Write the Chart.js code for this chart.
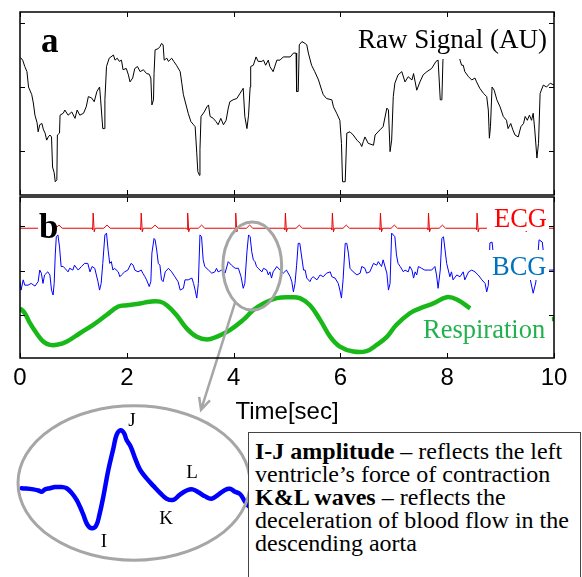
<!DOCTYPE html>
<html>
<head>
<meta charset="utf-8">
<script src="https://cdn.jsdelivr.net/npm/chart.js@4.4.0/dist/chart.umd.min.js"></script>
<style>
  body { margin: 0; background: #fff; width: 582px; height: 577px; overflow: hidden; }
  canvas { position: absolute; left: 0; }
  #rawChart { top: 0; }
  #signalsChart { top: 190px; }
  #zoomChart { top: 400px; }
  #note {
    position: absolute; left: 248px; top: 432px; width: 333px; height: 160px;
    box-sizing: border-box; border: 1px solid #444; background: #fff; color: #000;
    font-family: 'Liberation Serif', 'Times New Roman', serif; font-size: 24px; line-height: 23px;
    padding: 7px 0 0 6px; white-space: nowrap;
  }
</style>
</head>
<body>
<canvas id="rawChart" width="582" height="200"></canvas>
<canvas id="signalsChart" width="582" height="250"></canvas>
<canvas id="zoomChart" width="260" height="177"></canvas>
<div id="note"><b>I-J amplitude</b> – reflects the left<br>ventricle’s force of contraction<br><b>K&amp;L waves</b> – reflects the<br>deceleration of blood flow in the<br>descending aorta</div>
<script>
// tick positions
const timeTicks = [0, 2, 4, 6, 8, 10];
const rawTicks = [0, 1, 2];
const stackTicks = [0, 1, 2];

// panel a: raw signal [time s, AU]
const rawSignal = [
  [0.01,1.46],[0.05,1.42],[0.09,1.32],[0.13,1.24],[0.16,1.00],[0.22,0.88],[0.25,0.75],[0.28,0.56],[0.32,0.44],[0.34,0.30],
  [0.37,0.41],[0.41,0.43],[0.44,0.33],[0.47,0.28],[0.50,0.17],[0.53,0.22],[0.56,0.25],[0.59,0.22],[0.61,-0.25],[0.64,-0.34],
  [0.66,-0.48],[0.69,-0.45],[0.70,0.25],[0.74,0.28],[0.75,0.56],[0.81,0.59],[0.84,0.64],[0.90,0.56],[0.97,0.61],[1.03,0.51],
  [1.07,0.64],[1.12,0.56],[1.19,0.59],[1.24,0.69],[1.28,0.85],[1.34,0.83],[1.39,0.77],[1.44,0.93],[1.49,1.00],[1.51,0.80],
  [1.55,0.35],[1.58,0.35],[1.59,0.80],[1.62,1.32],[1.67,1.45],[1.75,1.50],[1.78,1.42],[1.82,1.45],[1.86,1.40],[1.90,1.42],
  [1.93,1.27],[1.99,1.29],[2.03,1.19],[2.06,1.08],[2.11,1.14],[2.15,1.29],[2.20,1.32],[2.25,1.24],[2.31,1.27],[2.37,1.21],
  [2.42,1.20],[2.45,1.14],[2.47,0.72],[2.50,0.80],[2.51,1.21],[2.53,1.58],[2.59,1.60],[2.62,1.63],[2.65,1.68],[2.68,1.66],
  [2.70,1.42],[2.75,1.45],[2.78,1.40],[2.84,1.45],[2.88,1.40],[2.93,1.34],[3.00,1.24],[3.03,1.06],[3.06,0.88],[3.10,0.75],
  [3.15,0.59],[3.20,0.46],[3.25,0.41],[3.28,0.38],[3.31,-0.03],[3.33,-0.32],[3.36,-0.38],[3.37,0.02],[3.39,0.54],[3.45,0.61],
  [3.50,0.69],[3.53,0.72],[3.56,0.54],[3.62,0.51],[3.67,0.46],[3.71,0.41],[3.76,0.51],[3.81,0.41],[3.86,0.48],[3.90,0.67],
  [3.93,0.77],[3.99,0.80],[4.06,0.82],[4.12,0.90],[4.18,0.98],[4.21,0.54],[4.25,0.35],[4.28,0.56],[4.31,1.00],[4.32,1.32],
  [4.37,1.34],[4.42,1.47],[4.46,1.40],[4.53,1.40],[4.56,1.42],[4.60,1.34],[4.65,1.42],[4.68,1.32],[4.74,1.24],[4.81,1.42],
  [4.87,1.42],[4.93,1.47],[5.06,1.47],[5.12,1.53],[5.17,1.53],[5.18,0.93],[5.21,0.93],[5.23,1.66],[5.28,1.71],[5.34,1.68],
  [5.37,1.66],[5.40,1.53],[5.46,1.34],[5.52,1.24],[5.59,1.11],[5.65,0.95],[5.68,0.88],[5.74,0.82],[5.84,0.80],[5.87,0.69],
  [5.93,0.59],[5.99,0.48],[6.02,0.12],[6.04,-0.48],[6.09,-0.48],[6.12,0.28],[6.18,0.30],[6.24,0.25],[6.31,0.17],[6.37,0.12],
  [6.40,0.07],[6.43,0.15],[6.46,0.22],[6.52,0.12],[6.62,0.09],[6.65,0.25],[6.74,0.33],[6.80,0.38],[6.87,0.67],[6.90,0.64],
  [6.93,-0.01],[6.96,0.17],[6.99,0.85],[7.02,1.06],[7.08,1.19],[7.15,1.24],[7.21,1.08],[7.27,1.16],[7.34,1.11],[7.37,1.21],
  [7.40,1.08],[7.43,0.95],[7.49,1.08],[7.55,1.19],[7.62,1.24],[7.71,1.29],[7.79,1.40],[7.83,1.42],[7.87,0.80],[7.90,0.80],
  [7.92,1.42],[7.94,1.50],[8.09,1.66],[8.20,1.58],[8.24,1.42],[8.27,1.34],[8.30,1.34],[8.33,1.24],[8.40,1.16],[8.46,1.11],
  [8.52,1.14],[8.55,1.08],[8.61,0.98],[8.68,0.90],[8.74,0.85],[8.77,0.64],[8.79,0.20],[8.81,0.38],[8.84,1.00],[8.88,0.95],
  [8.93,0.80],[8.99,0.69],[9.05,0.54],[9.11,0.48],[9.14,0.35],[9.19,0.43],[9.23,0.33],[9.27,0.25],[9.33,0.22],[9.38,0.38],
  [9.43,0.43],[9.46,0.54],[9.50,0.48],[9.54,0.56],[9.58,0.48],[9.61,0.59],[9.64,0.33],[9.68,-0.11],[9.71,0.12],[9.74,0.90],
  [9.80,1.03],[9.86,1.00],[9.93,1.06],[10.0,1.03]
];

// panel b: ECG (offset trace)
const ecg = [
  [0,1.95],
  [0.41,1.95],[0.45,1.95],[0.46,1.92],[0.47,2.29],[0.49,1.87],[0.51,1.95],[0.67,1.95],[0.73,2.02],[0.79,1.95],
  [1.31,1.95],[1.35,1.95],[1.36,1.92],[1.37,2.29],[1.39,1.87],[1.41,1.95],[1.57,1.95],[1.63,2.02],[1.69,1.95],
  [2.21,1.95],[2.25,1.95],[2.26,1.92],[2.27,2.29],[2.29,1.87],[2.31,1.95],[2.47,1.95],[2.53,2.02],[2.59,1.95],
  [3.08,1.95],[3.12,1.95],[3.13,1.92],[3.14,2.29],[3.16,1.87],[3.18,1.95],[3.34,1.95],[3.40,2.02],[3.46,1.95],
  [3.98,1.95],[4.02,1.95],[4.03,1.92],[4.04,2.29],[4.06,1.87],[4.08,1.95],[4.24,1.95],[4.30,2.02],[4.36,1.95],
  [4.91,1.95],[4.95,1.95],[4.96,1.92],[4.97,2.29],[4.99,1.87],[5.01,1.95],[5.17,1.95],[5.23,2.02],[5.29,1.95],
  [5.79,1.95],[5.83,1.95],[5.84,1.92],[5.85,2.29],[5.87,1.87],[5.89,1.95],[6.05,1.95],[6.11,2.02],[6.17,1.95],
  [6.69,1.95],[6.73,1.95],[6.74,1.92],[6.75,2.29],[6.77,1.87],[6.79,1.95],[6.95,1.95],[7.01,2.02],[7.07,1.95],
  [7.59,1.95],[7.63,1.95],[7.64,1.92],[7.65,2.29],[7.67,1.87],[7.69,1.95],[7.85,1.95],[7.91,2.02],[7.97,1.95],
  [8.50,1.95],[8.54,1.95],[8.55,1.92],[8.56,2.29],[8.58,1.87],[8.60,1.95],[8.76,1.95],[8.82,2.02],[8.88,1.95],
  [9.40,1.95],[9.44,1.95],[9.45,1.92],[9.46,2.29],[9.48,1.87],[9.50,1.95],[9.66,1.95],[9.72,2.02],[9.78,1.95],
  [10,1.95]
];

// panel b: BCG (offset trace)
const bcg = [
  [0.00,0.75],[0.02,0.56],[0.06,0.79],[0.09,0.67],[0.15,0.67],[0.21,0.71],[0.28,0.65],[0.34,0.75],[0.37,1.01],[0.40,0.94],
  [0.43,0.71],[0.46,0.90],[0.52,0.97],[0.56,0.90],[0.59,0.56],[0.62,0.45],[0.64,0.71],[0.66,1.35],[0.68,1.76],[0.71,1.80],
  [0.74,1.53],[0.77,1.09],[0.81,1.09],[0.84,1.05],[0.90,0.97],[0.93,1.05],[0.99,1.01],[1.02,1.12],[1.09,1.01],[1.15,1.09],
  [1.21,1.16],[1.27,1.16],[1.31,0.97],[1.35,1.09],[1.40,1.05],[1.46,0.75],[1.49,0.56],[1.52,0.71],[1.55,1.16],[1.59,1.80],
  [1.62,1.84],[1.65,1.46],[1.68,1.16],[1.71,1.20],[1.74,1.01],[1.77,1.05],[1.84,0.97],[1.87,0.86],[1.90,0.90],[1.96,0.97],
  [2.02,1.01],[2.08,1.16],[2.12,1.12],[2.15,1.01],[2.21,0.97],[2.27,1.01],[2.30,0.94],[2.34,0.86],[2.37,0.79],[2.42,0.64],
  [2.45,0.75],[2.47,1.39],[2.51,1.72],[2.53,1.69],[2.56,1.46],[2.59,1.16],[2.62,1.12],[2.65,0.79],[2.68,0.75],[2.72,0.97],
  [2.75,1.01],[2.78,1.05],[2.84,0.97],[2.90,0.86],[2.96,0.75],[3.00,0.56],[3.06,0.60],[3.09,0.79],[3.15,0.79],[3.22,0.83],
  [3.25,0.71],[3.28,0.56],[3.31,0.38],[3.34,0.71],[3.37,1.80],[3.40,1.76],[3.43,1.24],[3.46,1.09],[3.53,1.01],[3.59,0.94],
  [3.65,0.97],[3.68,1.05],[3.71,0.97],[3.78,1.01],[3.84,0.94],[3.90,1.20],[3.96,1.12],[4.03,1.05],[4.09,1.05],[4.14,0.86],
  [4.18,0.60],[4.21,0.71],[4.25,1.42],[4.28,1.80],[4.31,1.76],[4.34,1.42],[4.37,1.24],[4.40,1.20],[4.43,1.09],[4.46,1.05],
  [4.53,0.97],[4.56,1.05],[4.62,1.01],[4.65,0.90],[4.68,0.97],[4.71,0.83],[4.74,0.97],[4.81,1.09],[4.87,1.01],[4.93,0.94],
  [4.99,1.01],[5.06,0.86],[5.09,0.75],[5.12,0.52],[5.15,0.71],[5.18,1.12],[5.21,1.61],[5.24,1.61],[5.27,1.35],[5.31,1.01],
  [5.34,1.01],[5.37,0.83],[5.43,0.75],[5.46,0.83],[5.49,0.86],[5.56,0.79],[5.62,0.90],[5.68,0.86],[5.74,0.94],[5.81,0.97],
  [5.84,0.86],[5.90,0.83],[5.96,0.71],[5.99,0.56],[6.02,0.38],[6.05,0.79],[6.09,1.61],[6.12,1.61],[6.15,1.39],[6.18,1.05],
  [6.24,0.97],[6.31,0.90],[6.37,0.94],[6.40,1.09],[6.46,1.05],[6.49,0.94],[6.55,0.97],[6.62,1.16],[6.68,1.12],[6.71,1.20],
  [6.77,1.09],[6.80,1.24],[6.87,0.94],[6.90,0.56],[6.93,0.71],[6.96,1.84],[7.02,1.76],[7.05,1.35],[7.08,1.16],[7.12,1.09],
  [7.18,0.97],[7.21,1.01],[7.27,0.97],[7.30,1.09],[7.34,1.01],[7.37,0.83],[7.40,0.97],[7.43,0.90],[7.46,1.09],[7.52,1.05],
  [7.58,1.01],[7.65,1.01],[7.71,1.01],[7.77,1.09],[7.80,0.90],[7.83,0.60],[7.87,1.01],[7.90,1.72],[7.93,1.76],[7.96,1.46],
  [7.99,1.16],[8.05,0.86],[8.08,0.97],[8.11,0.79],[8.18,0.90],[8.24,0.86],[8.30,0.97],[8.33,0.79],[8.40,0.97],[8.46,1.01],
  [8.52,0.97],[8.58,0.90],[8.65,0.79],[8.71,0.71],[8.74,0.52],[8.77,0.67],[8.80,1.62],[8.84,1.64],[8.88,1.19],[8.99,0.97],
  [9.08,0.83],[9.27,0.97],[9.46,0.97],[9.55,0.83],[9.61,0.49],[9.66,0.74],[9.72,1.69],[9.78,1.64],[9.83,1.12],[9.89,1.01],
  [10.0,1.01]
];

// panel b: respiration (offset trace; trace stops near 8.4 s, short stub at the right edge)
const respiration = [
  [0.00,0.15],[0.09,0.04],[0.19,-0.19],[0.31,-0.41],[0.44,-0.60],[0.56,-0.67],[0.69,-0.67],[0.87,-0.60],[1.12,-0.41],[1.37,-0.22],
  [1.62,0.00],[1.84,0.19],[2.00,0.22],[2.25,0.26],[2.43,0.30],[2.62,0.30],[2.75,0.22],[2.93,0.00],[3.12,-0.30],[3.31,-0.49],
  [3.50,-0.55],[3.68,-0.49],[3.93,-0.34],[4.18,-0.11],[4.37,0.11],[4.56,0.26],[4.81,0.38],[5.06,0.40],[5.24,0.38],[5.43,0.22],
  [5.62,-0.11],[5.81,-0.49],[5.99,-0.71],[6.24,-0.82],[6.49,-0.81],[6.68,-0.67],[6.87,-0.49],[7.05,-0.22],[7.30,0.04],[7.49,0.15],
  [7.74,0.26],[7.99,0.40],[8.18,0.35],[8.43,0.15],
  [9.0,null],[9.96,-0.09],[10.0,-0.09]
];

// inset: one BCG beat [time s, amplitude]
const beatTime = [0.108,0.167,0.192,0.208,0.225,0.25,0.275,0.308,0.333,0.358,0.383,0.40,0.417,0.437,0.458,0.48,0.497,0.517,0.542,0.567,
  0.583,0.603,0.62,0.633,0.653,0.675,0.70,0.733,0.767,0.80,0.833,0.867,0.90,0.933,0.963,0.992,1.025,1.058,1.092,1.125,
  1.15,1.175,1.20,1.225,1.247,1.29];
const beatValue = [0.01,-0.01,-0.03,-0.05,-0.01,0.01,0.03,0.03,0.01,-0.07,-0.19,-0.31,-0.45,-0.62,-0.68,-0.64,-0.45,-0.13,0.33,0.70,
  0.93,1.01,0.96,0.84,0.73,0.53,0.33,0.18,0.05,-0.07,-0.17,-0.19,-0.10,-0.03,-0.01,-0.06,-0.13,-0.17,-0.10,-0.02,
  0.00,-0.05,-0.09,-0.22,-0.31,-0.40];
const waveLabels = ['I', 'J', 'K', 'L'];
const waveLabelPos = [[0.52,-0.92],[0.66,1.16],[0.83,-0.52],[0.96,0.27]];

const serif = "'Liberation Serif', 'Times New Roman', serif";
const sans = "'Liberation Sans', Arial, sans-serif";
const toXY = arr => arr.map(p => ({ x: p[0], y: p[1] }));

// boxed + plain texts
const textLabels = {
    id: 'textLabels',
    afterDatasetsDraw(chart, args, opts) {
        const ctx = chart.ctx;
        ctx.save();
        opts.items.forEach(it => {
            if (it.box) {
                ctx.fillStyle = '#fff';
                ctx.fillRect(it.box[0], it.box[1], it.box[2] - it.box[0], it.box[3] - it.box[1]);
            }
            ctx.font = it.font;
            ctx.fillStyle = it.color;
            ctx.textAlign = 'left';
            ctx.textBaseline = 'alphabetic';
            ctx.fillText(it.text, it.x, it.y);
        });
        ctx.restore();
    }
};

// box frame with inward ticks on all sides
const frameTicks = {
    id: 'frameTicks',
    afterDraw(chart, args, opts) {
        const { ctx, chartArea: a } = chart;
        const x = chart.scales.x, y = chart.scales.y;
        ctx.save();
        ctx.strokeStyle = '#000';
        ctx.lineWidth = 1;
        ctx.beginPath();
        opts.xTicks.forEach(v => {
            const px = Math.round(x.getPixelForValue(v)) + 0.5;
            ctx.moveTo(px, a.top); ctx.lineTo(px, a.top + 5);
            ctx.moveTo(px, a.bottom); ctx.lineTo(px, a.bottom - 5);
        });
        opts.yTicks.forEach(v => {
            const py = Math.round(y.getPixelForValue(v)) + 0.5;
            ctx.moveTo(a.left, py); ctx.lineTo(a.left + 5, py);
            ctx.moveTo(a.right, py); ctx.lineTo(a.right - 5, py);
        });
        ctx.stroke();
        ctx.lineWidth = 1.5;
        ctx.strokeRect(a.left, a.top, a.right - a.left, a.bottom - a.top);
        ctx.restore();
    }
};

// grey ellipse (data units) and optional arrow / letters
const highlight = {
    id: 'highlight',
    afterDatasetsDraw(chart, args, opts) {
        const ctx = chart.ctx;
        const x = chart.scales.x, y = chart.scales.y;
        const e = opts.ellipse;
        const cx = x.getPixelForValue(e[0]), cy = y.getPixelForValue(e[1]);
        const rx = Math.abs(x.getPixelForValue(e[0] + e[2]) - cx);
        const ry = Math.abs(y.getPixelForValue(e[1] + e[3]) - cy);
        ctx.save();
        ctx.strokeStyle = '#a6a6a6';
        ctx.lineWidth = 3;
        ctx.beginPath();
        ctx.ellipse(cx, cy, rx, ry, 0, 0, Math.PI * 2);
        ctx.stroke();
        if (opts.arrowTo) {
            const ang = opts.arrowFrom;
            const sx = cx + rx * Math.cos(ang), sy = cy + ry * Math.sin(ang);
            const ex = x.getPixelForValue(opts.arrowTo[0]), ey = y.getPixelForValue(opts.arrowTo[1]);
            const dir = Math.atan2(ey - sy, ex - sx);
            ctx.lineWidth = 2.5;
            ctx.beginPath();
            ctx.moveTo(sx, sy); ctx.lineTo(ex, ey);
            ctx.moveTo(ex - 13 * Math.cos(dir - 0.45), ey - 13 * Math.sin(dir - 0.45));
            ctx.lineTo(ex, ey);
            ctx.lineTo(ex - 13 * Math.cos(dir + 0.45), ey - 13 * Math.sin(dir + 0.45));
            ctx.stroke();
        }
        if (opts.letters) {
            ctx.fillStyle = '#000';
            ctx.font = '19px ' + serif;
            ctx.textAlign = 'center';
            ctx.textBaseline = 'middle';
            opts.letters.forEach((t, i) => {
                ctx.fillText(t, x.getPixelForValue(opts.letterPos[i][0]), y.getPixelForValue(opts.letterPos[i][1]));
            });
        }
        ctx.restore();
    }
};

const common = {
    responsive: false,
    animation: false,
    devicePixelRatio: 1,
    events: []
};

// Panel a
new Chart(document.getElementById('rawChart'), {
    type: 'line',
    data: {
        datasets: [{
            data: toXY(rawSignal),
            borderColor: '#000',
            borderWidth: 1,
            pointRadius: 0,
            tension: 0
        }]
    },
    options: {
        ...common,
        layout: { padding: { left: 20, top: 12, right: 28, bottom: 5 } },
        scales: {
            x: { type: 'linear', display: false, min: 0, max: 10 },
            y: { display: false, min: -0.6875, max: 2.172 }
        },
        plugins: {
            legend: { display: false },
            tooltip: { enabled: false },
            textLabels: {
                items: [
                    { text: 'a', font: 'bold 35px ' + serif, color: '#000', x: 41, y: 52 },
                    { text: 'Raw Signal (AU)', font: '27px ' + serif, color: '#000', x: 358, y: 48, box: [352, 18, 549, 59] }
                ]
            },
            frameTicks: { xTicks: timeTicks, yTicks: rawTicks }
        }
    },
    plugins: [textLabels, frameTicks]
});

// Panel b
new Chart(document.getElementById('signalsChart'), {
    type: 'line',
    data: {
        datasets: [
            { data: toXY(respiration), borderColor: '#19b819', borderWidth: 4.5, pointRadius: 0, tension: 0.4, spanGaps: false, borderCapStyle: 'butt', borderJoinStyle: 'round' },
            { data: toXY(bcg), borderColor: '#0000ff', borderWidth: 1, pointRadius: 0, tension: 0 },
            { data: toXY(ecg), borderColor: '#e60000', borderWidth: 1, pointRadius: 0, tension: 0 }
        ]
    },
    options: {
        ...common,
        layout: { padding: { left: 20, top: 7, right: 28, bottom: 13.6 } },
        scales: {
            x: {
                type: 'linear', min: 0, max: 10,
                afterBuildTicks: s => { s.ticks = timeTicks.map(v => ({ value: v })); },
                afterFit: s => { s.height = 68.4; },
                grid: { display: false, drawTicks: false },
                border: { display: false },
                ticks: { color: '#000', padding: 6, maxRotation: 0, autoSkip: false, font: { family: sans, size: 24 } },
                title: { display: true, text: 'Time[sec]', color: '#000', font: { family: sans, size: 24 }, padding: { top: 2, bottom: 0 } }
            },
            y: { display: false, min: -0.966, max: 2.652 }
        },
        plugins: {
            legend: { display: false },
            tooltip: { enabled: false },
            textLabels: {
                items: [
                    { text: 'b', font: 'bold 35px ' + serif, color: '#000', x: 39, y: 48, box: [38, 20, 57, 43] },
                    { text: 'ECG', font: '26.5px ' + serif, color: '#ff0000', x: 494, y: 36.5, box: [487, 13, 549, 41] },
                    { text: 'BCG', font: '26.5px ' + serif, color: '#0072bd', x: 492, y: 85, box: [487, 60, 549, 90] },
                    { text: 'Respiration', font: '26.5px ' + serif, color: '#22b14c', x: 423, y: 148, box: [419, 124, 549, 156] }
                ]
            },
            highlight: { ellipse: [4.35, 1.10, 0.55, 0.99], arrowFrom: 2.19, arrowTo: [3.39, -2.13] },
            frameTicks: { xTicks: timeTicks, yTicks: stackTicks }
        }
    },
    plugins: [textLabels, highlight, frameTicks]
});

// Inset: zoomed BCG beat
new Chart(document.getElementById('zoomChart'), {
    type: 'line',
    data: {
        datasets: [{
            data: beatTime.map((t, i) => ({ x: t, y: beatValue[i] })),
            borderColor: '#0000ff',
            borderWidth: 4.5,
            pointRadius: 0,
            tension: 0.4,
            borderCapStyle: 'round',
            borderJoinStyle: 'round'
        }]
    },
    options: {
        ...common,
        layout: { padding: 0 },
        scales: {
            x: { type: 'linear', display: false, min: 0, max: 1.3 },
            y: { display: false, min: -1.52, max: 1.53 }
        },
        plugins: {
            legend: { display: false },
            tooltip: { enabled: false },
            highlight: { ellipse: [0.67, 0.10, 0.58, 1.33], letters: waveLabels, letterPos: waveLabelPos }
        }
    },
    plugins: [highlight]
});
</script>
</body>
</html>
